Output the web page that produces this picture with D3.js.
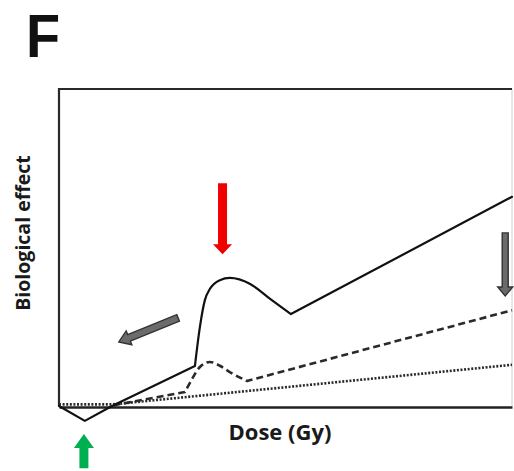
<!DOCTYPE html>
<html><head><meta charset="utf-8">
<script src="https://cdn.jsdelivr.net/npm/d3@7"></script>
<style>html,body{margin:0;padding:0;background:#fff;}svg{display:block;}</style>
</head><body>
<svg id="chart" width="514" height="471"></svg>
<script>
// ---- data (dose units on x, effect units on y) ----
const solidPre  = [[0,0],[0.57,-0.47],[1.17,0],[3.0,1.26]];
const solidBump = [[3.0,1.26],[3.11,2.49],[3.22,3.34],[3.33,3.69],[3.55,3.97],[3.77,4.04],[4.22,3.85],[4.66,3.38],[5.12,2.90]];
const solidPost = [[5.12,2.90],[10,6.6]];
const dashedPre  = [[1.2,0.02],[2.78,0.44]];
const dashedBump = [[2.78,0.44],[2.89,0.73],[3.11,1.23],[3.33,1.39],[3.55,1.27],[3.77,1.07],[4.15,0.79]];
const dashedPost = [[4.15,0.79],[10,3.02]];
const dottedLine = [[0,0.05],[1.17,0.05],[10,1.3]];
// annotation arrows: [from, to]
const arrowRed   = [[3.61,7.03],[3.61,4.79]];
const arrowGrayV = [[9.85,5.46],[9.85,3.47]];
const arrowGrayD = [[2.63,2.78],[1.32,2.02]];
const arrowGreen = [[0.55,-1.96],[0.55,-0.88]];
const xLabel = "Dose (Gy)";
const yLabel = "Biological effect";
const panelLabel = "F";

const svg = d3.select("#chart");
const x = d3.scaleLinear().domain([0,10]).range([59,512]);
const y = d3.scaleLinear().domain([0,10]).range([406,89]);

// frame
svg.append("line").attr("x1",x(10)).attr("x2",x(10)).attr("y1",y(10)).attr("y2",y(0))
  .attr("stroke","#d0d0d0").attr("stroke-width",1);
svg.append("path").attr("d",`M${x(10)},${y(10)}H${x(0)}V${y(0)}`)
  .attr("fill","none").attr("stroke","#2a2a2a").attr("stroke-width",2.2);
const xAxis = svg.append("g").attr("transform",`translate(0,${y(0)+1})`)
  .call(d3.axisBottom(x).tickValues([]).tickSizeOuter(0));
xAxis.select(".domain").attr("stroke","#222").attr("stroke-width",2.6);

const lin = d3.line().x(d=>x(d[0])).y(d=>y(d[1])).curve(d3.curveLinear);
const mono = d3.line().x(d=>x(d[0])).y(d=>y(d[1])).curve(d3.curveMonotoneX);

function series(parts, style){
  const d = parts.map(([pts,gen],i)=>{
    const s = gen(pts);
    return i===0 ? s : s.replace(/^M[^LC]*/, "");
  }).join("");
  svg.append("path").attr("d",d).attr("fill","none")
    .attr("stroke",style.color).attr("stroke-width",style.w)
    .attr("stroke-dasharray",style.dash||null)
    .attr("stroke-linejoin","round").attr("stroke-linecap",style.cap||"round");
}
series([[dottedLine,lin]],{color:"#2a2a2a",w:2.6,dash:"2,1.6",cap:"butt"});
series([[dashedPre,lin],[dashedBump,mono],[dashedPost,lin]],{color:"#2a2a2a",w:2.6,dash:"7,4",cap:"butt"});
series([[solidPre,lin],[solidBump,mono],[solidPost,lin]],{color:"#111",w:2.2});

function arrow(a, shaftW, headW, headL, fill, stroke){
  const [x0,y0] = [x(a[0][0]),y(a[0][1])], [x1,y1] = [x(a[1][0]),y(a[1][1])];
  const dx=x1-x0, dy=y1-y0, L=Math.hypot(dx,dy), ux=dx/L, uy=dy/L, nx=-uy, ny=ux;
  const bx=x1-ux*headL, by=y1-uy*headL;
  const p=[[x0+nx*shaftW/2,y0+ny*shaftW/2],[bx+nx*shaftW/2,by+ny*shaftW/2],[bx+nx*headW/2,by+ny*headW/2],
    [x1,y1],[bx-nx*headW/2,by-ny*headW/2],[bx-nx*shaftW/2,by-ny*shaftW/2],[x0-nx*shaftW/2,y0-ny*shaftW/2]];
  svg.append("path").attr("d","M"+p.map(q=>q.join(",")).join("L")+"Z")
    .attr("fill",fill).attr("stroke",stroke||"none").attr("stroke-width",stroke?1.4:0)
    .attr("stroke-linejoin","miter");
}
arrow(arrowRed,9,19,10,"#f20000");
arrow(arrowGrayV,6,15,9,"#6b6b6b","#333");
arrow(arrowGrayD,7,15,11,"#6b6b6b","#333");
arrow(arrowGreen,9,20,14,"#00b050");

// texts
svg.append("text").attr("transform","translate(26,57) scale(0.9,1)").text(panelLabel)
  .attr("font-family","Liberation Sans, Arial, sans-serif").attr("font-weight",700).attr("font-size",62).attr("fill","#111");
svg.append("text").attr("x",280).attr("y",440).attr("text-anchor","middle").text(xLabel)
  .attr("font-family","Open Sans, sans-serif").attr("font-weight",700).attr("font-size",22).attr("fill","#1a1a1a");
svg.append("text").attr("transform","translate(29.5,233) rotate(-90)").attr("text-anchor","middle").text(yLabel)
  .attr("font-family","Open Sans, sans-serif").attr("font-weight",700).attr("font-size",19.5).attr("fill","#1a1a1a");
</script>
</body></html>
